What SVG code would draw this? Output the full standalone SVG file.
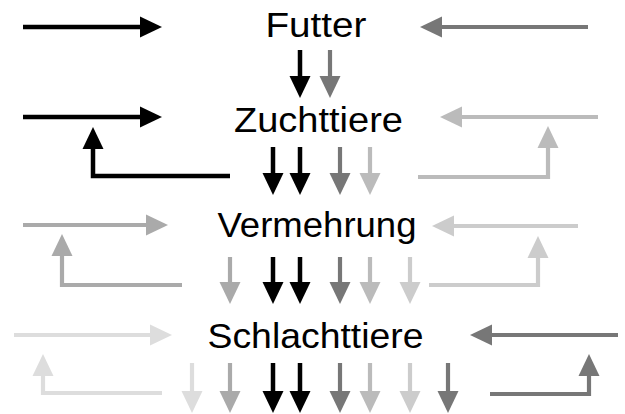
<svg xmlns="http://www.w3.org/2000/svg" width="625" height="414" viewBox="0 0 625 414">
  <style>
    .lbl { font-family: "Liberation Sans", Arial, sans-serif; font-size: 35px; fill: #000; }
    .a { fill: none; stroke-linecap: butt; stroke-linejoin: miter; }
    .k { stroke: #000; stroke-width: 4.5; marker-end: url(#mk); }
    .g7 { stroke: #777; stroke-width: 4.2; marker-end: url(#m7); }
    .ga { stroke: #aaa; stroke-width: 4.2; marker-end: url(#ma); }
    .gb { stroke: #bbb; stroke-width: 4.2; marker-end: url(#mb); }
    .gc { stroke: #ccc; stroke-width: 4.2; marker-end: url(#mc); }
    .gd { stroke: #ddd; stroke-width: 4.2; marker-end: url(#md); }
  </style>
  <defs>
    <marker id="mk" markerUnits="userSpaceOnUse" markerWidth="23" markerHeight="22" refX="0" refY="10.5" orient="auto" overflow="visible"><path d="M0,0 L22,10.5 L0,21 Z" fill="#000"/></marker>
    <marker id="m7" markerUnits="userSpaceOnUse" markerWidth="23" markerHeight="22" refX="0" refY="10.5" orient="auto" overflow="visible"><path d="M0,0 L22,10.5 L0,21 Z" fill="#777"/></marker>
    <marker id="ma" markerUnits="userSpaceOnUse" markerWidth="23" markerHeight="22" refX="0" refY="10.5" orient="auto" overflow="visible"><path d="M0,0 L22,10.5 L0,21 Z" fill="#aaa"/></marker>
    <marker id="mb" markerUnits="userSpaceOnUse" markerWidth="23" markerHeight="22" refX="0" refY="10.5" orient="auto" overflow="visible"><path d="M0,0 L22,10.5 L0,21 Z" fill="#bbb"/></marker>
    <marker id="mc" markerUnits="userSpaceOnUse" markerWidth="23" markerHeight="22" refX="0" refY="10.5" orient="auto" overflow="visible"><path d="M0,0 L22,10.5 L0,21 Z" fill="#ccc"/></marker>
    <marker id="md" markerUnits="userSpaceOnUse" markerWidth="23" markerHeight="22" refX="0" refY="10.5" orient="auto" overflow="visible"><path d="M0,0 L22,10.5 L0,21 Z" fill="#ddd"/></marker>
  </defs>

  <g id="futter"><text class="lbl" x="265.5" y="36.5" textLength="101" lengthAdjust="spacingAndGlyphs">Futter</text></g>
  <g id="zuchttiere"><text class="lbl" x="234" y="131.5" textLength="169" lengthAdjust="spacingAndGlyphs">Zuchttiere</text></g>
  <g id="vermehrung"><text class="lbl" x="217.5" y="236.5" textLength="199" lengthAdjust="spacingAndGlyphs">Vermehrung</text></g>
  <g id="schlachttiere"><text class="lbl" x="207.5" y="347.5" textLength="216" lengthAdjust="spacingAndGlyphs">Schlachttiere</text></g>

  <g id="connectors">
    <!-- row 1 -->
    <path class="a k" d="M23,27 H140"/>
    <path class="a g7" d="M588,27 H442"/>
    <path class="a k" d="M300,50 V76"/>
    <path class="a g7" d="M330,50 V76"/>
    <!-- row 2 -->
    <path class="a k" d="M23,117 H140"/>
    <path class="a gb" d="M598,117 H462"/>
    <path class="a k" d="M230,176 H93 V149"/>
    <path class="a gb" d="M418,177 H548 V148"/>
    <path class="a k" d="M273,147 V173"/>
    <path class="a k" d="M300,147 V173"/>
    <path class="a g7" d="M340,147 V173"/>
    <path class="a gb" d="M370,147 V173"/>
    <!-- row 3 -->
    <path class="a ga" d="M23,225 H146"/>
    <path class="a gc" d="M578,226 H454"/>
    <path class="a ga" d="M182,285 H62 V256"/>
    <path class="a gc" d="M429,285 H538 V258"/>
    <path class="a ga" d="M230,257 V282"/>
    <path class="a k" d="M273,257 V282"/>
    <path class="a k" d="M300,257 V282"/>
    <path class="a g7" d="M340,257 V282"/>
    <path class="a gb" d="M370,257 V282"/>
    <path class="a gc" d="M410,257 V282"/>
    <!-- row 4 -->
    <path class="a gd" d="M14,335 H150"/>
    <path class="a g7" d="M618,335 H492"/>
    <path class="a gd" d="M162,393 H43 V376"/>
    <path class="a g7" d="M490,394 H589 V376"/>
    <path class="a gd" d="M192,363 V391"/>
    <path class="a ga" d="M230,363 V391"/>
    <path class="a k" d="M273,363 V391"/>
    <path class="a k" d="M300,363 V391"/>
    <path class="a g7" d="M340,363 V391"/>
    <path class="a gb" d="M370,363 V391"/>
    <path class="a gc" d="M410,363 V391"/>
    <path class="a g7" d="M448,363 V391"/>
  </g>
</svg>
